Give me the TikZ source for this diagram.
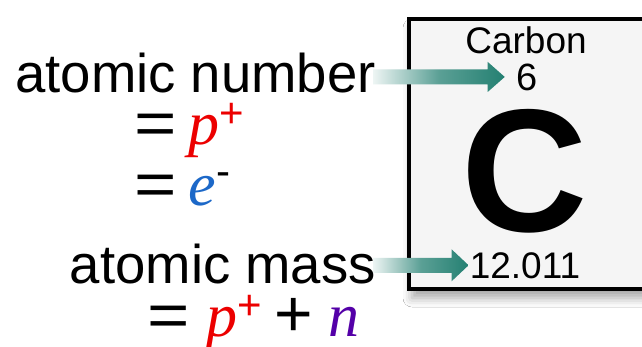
\documentclass[tikz,border=0pt]{standalone}
\usepackage{fontspec}
\setmainfont{Liberation Sans}
\newfontfamily\letterfont{Liberation Serif}
\usepackage{xcolor}
\usetikzlibrary{
  positioning,
  calc,
  shadows.blur
}
\definecolor{atomTeal}{RGB}{36,128,114}
\definecolor{atomRed}{RGB}{236,0,0}
\definecolor{atomBlue}{RGB}{28,104,200}
\definecolor{atomPurple}{RGB}{84,0,168}
\definecolor{atomCell}{RGB}{245,245,245}

% italic particle letter, raised charge, wide signs
\newcommand{\partsym}[2]{{\color{#1}\letterfont\itshape #2}}
\newcommand{\charge}[3]{\raisebox{#1}{\fontsize{42}{42}\selectfont\color{#2}#3}}
\newcommand{\eqsign}{\scalebox{1.17}[1]{=}}
\newcommand{\plussign}{{\fontsize{66}{66}\selectfont +}}

\begin{document}
\begin{tikzpicture}[
  x=1pt, y=-1pt,
  label/.style={
    inner sep=0pt,
    anchor=base east,
    font=\fontsize{54.5}{54.5}\selectfont
  },
  eqn/.style={
    inner sep=0pt,
    anchor=base west,
    font=\fontsize{62}{62}\selectfont
  },
  celltext/.style={
    inner sep=0pt,
    anchor=base,
    font=\fontsize{37}{37}\selectfont
  },
  fatarrow/.style={
    left color=atomTeal!8,
    right color=atomTeal,
    middle color=atomTeal!75
  }
]
\useasboundingbox (0,0) rectangle (642,346);
\clip (0,0) rectangle (642,346);
\fill[white] (0,0) rectangle (642,346);

% element cell
\draw[line width=4pt, fill=atomCell,
  blur shadow={shadow xshift=3pt, shadow yshift=-9pt,
    shadow blur radius=9pt, shadow opacity=35}]
  (409,19) rectangle (690,289);

\node[celltext] (name) at (526,53) {Carbon};
\node[celltext, font=\fontsize{38}{38}\selectfont] (num) at (527.5,90) {6};
\node[celltext, font=\fontsize{175}{175}\selectfont\bfseries] (sym) at (525,231) {C};
\node[celltext] (mass) at (525,278) {12.011};

% labels and equations
\node[label] (atnum) at (376,92) {atomic number};
\node[eqn] (eqp) at (134,144)
  {\eqsign\hspace{12pt}\partsym{atomRed}{p}\charge{17pt}{atomRed}{+}};
\node[eqn] (eqe) at (134,205)
  {\eqsign\hspace{12pt}\partsym{atomBlue}{e}\charge{20pt}{black}{-}};
\node[label] (atmass) at (376,283) {atomic mass};
\node[eqn] (eqm) at (147,336)
  {\eqsign\hspace{17pt}\partsym{atomRed}{p}\charge{17pt}{atomRed}{+}%
   \hspace{12pt}\plussign\hspace{16pt}\partsym{atomPurple}{n}};

% arrows
\shade[fatarrow] let \p1=(atnum.east), \p2=(num.west) in
  (\x1-3pt,\y2+7.5pt) -- (\x2-29pt,\y2+7.5pt) -- (\x2-29pt,\y2+15pt)
  -- (\x2-12pt,\y2) -- (\x2-29pt,\y2-15pt) -- (\x2-29pt,\y2-7.5pt)
  -- (\x1-3pt,\y2-7.5pt) -- cycle;
\shade[fatarrow] let \p1=(atmass.east), \p2=(mass.west) in
  (\x1-3pt,\y2+7.5pt) -- (\x2-18pt,\y2+7.5pt) -- (\x2-18pt,\y2+16pt)
  -- (\x2-1pt,\y2) -- (\x2-18pt,\y2-16pt) -- (\x2-18pt,\y2-7.5pt)
  -- (\x1-3pt,\y2-7.5pt) -- cycle;

\end{tikzpicture}
\end{document}
